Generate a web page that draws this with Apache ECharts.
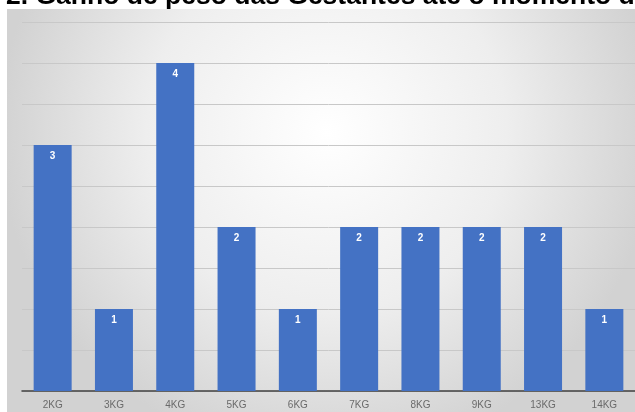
<!DOCTYPE html>
<html>
<head>
<meta charset="utf-8">
<script src="https://cdn.jsdelivr.net/npm/echarts@6/dist/echarts.min.js"></script>
<style>html,body{margin:0;padding:0;background:#fff;}#c{width:635px;height:412px;}</style>
</head>
<body>
<div id="c"></div>
<script>
const categories = ['2KG','3KG','4KG','5KG','6KG','7KG','8KG','9KG','13KG','14KG'];
const values = [3,1,4,2,1,2,2,2,2,1];
const titleText = '2. Ganho de peso das Gestantes até o momento do parto';

const chart = echarts.init(document.getElementById('c'));
chart.setOption({
  animation: false,
  backgroundColor: '#ffffff',
  title: {
    text: titleText,
    left: 1,
    top: -22,
    textStyle: {fontFamily: 'Liberation Sans, Arial', fontWeight: 'bold', fontSize: 26.5, color: '#000'}
  },
  graphic: [{
    type: 'rect', z: -10, silent: true,
    shape: {x: 7, y: 9, width: 640, height: 410},
    style: {
      fill: new echarts.graphic.RadialGradient(0.5, 0.3, 0.8, [
        {offset: 0, color: '#ffffff'},
        {offset: 0.55, color: '#eeeeee'},
        {offset: 1, color: '#d2d2d2'}
      ])
    }
  }],
  grid: {left: 22, right: 0, top: 22, bottom: 21, containLabel: false},
  xAxis: {
    type: 'category',
    data: categories,
    axisLine: {lineStyle: {color: '#404040', width: 1.5}},
    axisTick: {show: false},
    axisLabel: {color: '#6a6a6a', fontSize: 10, fontFamily: 'Liberation Sans, Arial', margin: 9}
  },
  yAxis: {
    type: 'value', min: 0, max: 4.5, interval: 0.5,
    axisLabel: {show: false},
    axisLine: {show: false},
    axisTick: {show: false},
    splitLine: {lineStyle: {color: '#c8c8c8', width: 1}}
  },
  series: [{
    type: 'bar',
    data: values,
    barWidth: 38,
    itemStyle: {color: '#4472C4'},
    label: {show: true, position: 'insideTop', distance: 6, color: '#fff', fontWeight: 'bold', fontSize: 10, fontFamily: 'Liberation Sans, Arial'}
  }]
});
</script>
</body>
</html>
